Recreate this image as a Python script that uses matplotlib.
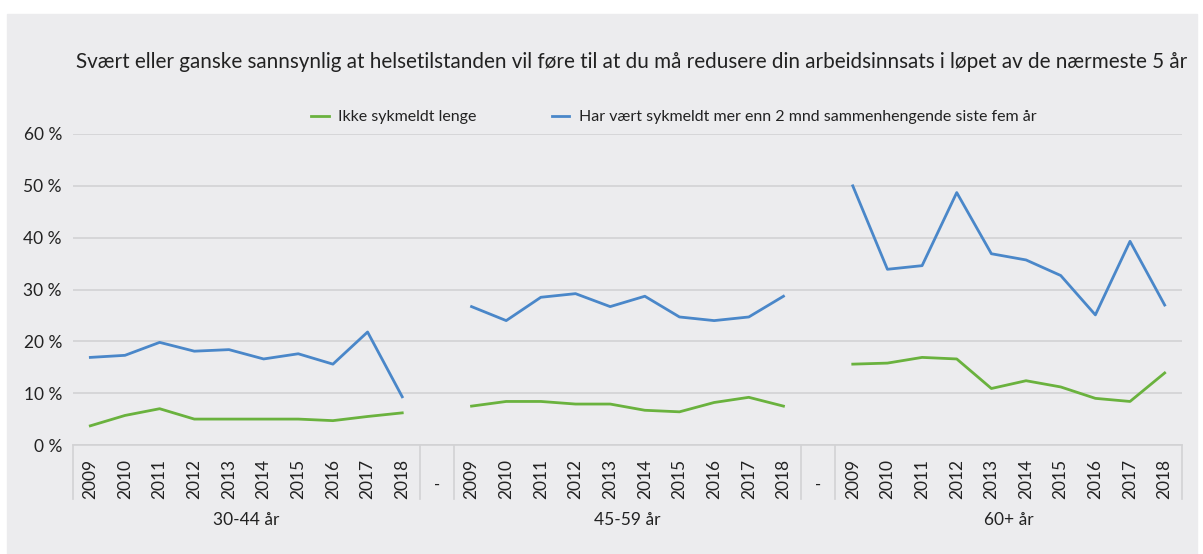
import numpy as np
import matplotlib
matplotlib.use("Agg")
import matplotlib.pyplot as plt
from matplotlib.patches import Rectangle
from matplotlib.transforms import blended_transform_factory

plt.rcParams["font.family"] = ["Lato", "DejaVu Sans"]

TITLE = ("Svært eller ganske sannsynlig at helsetilstanden vil føre til at du må "
         "redusere din arbeidsinnsats i løpet av de nærmeste 5 år")
YEARS = [str(y) for y in range(2009, 2019)]
GROUPS = ["30-44 år", "45-59 år", "60+ år"]
SERIES_NAMES = ["Ikke sykmeldt lenge",
                "Har vært sykmeldt mer enn 2 mnd sammenhengende siste fem år"]

# values in %, one list per age group (2009..2018)
green = [
    [3.7, 5.7, 7.0, 5.0, 5.0, 5.0, 5.0, 4.7, 5.5, 6.2],
    [7.5, 8.4, 8.4, 7.9, 7.9, 6.7, 6.4, 8.2, 9.2, 7.5],
    [15.6, 15.8, 16.9, 16.6, 10.9, 12.4, 11.2, 9.0, 8.4, 13.9],
]
blue = [
    [16.9, 17.3, 19.8, 18.1, 18.4, 16.6, 17.6, 15.6, 21.8, 9.3],
    [26.7, 24.0, 28.5, 29.2, 26.7, 28.7, 24.7, 24.0, 24.7, 28.7],
    [50.0, 33.9, 34.6, 48.7, 36.9, 35.7, 32.7, 25.1, 39.3, 27.0],
]

GREEN = "#6ab23e"
BLUE = "#4a87c9"
BG = "#ececee"
GRID = "#d2d2d4"
TXT = "#222222"


def joined(groups):
    # glue the groups together with a gap ("-") between them
    out = []
    for i, g in enumerate(groups):
        if i:
            out.append(np.nan)
        out.extend(g)
    return np.array(out)


labels = []
for i in range(len(GROUPS)):
    if i:
        labels.append("-")
    labels.extend(YEARS)
x = np.arange(len(labels))

fig = plt.figure(figsize=(12.03, 5.54), dpi=100, facecolor="white")
fig.patches.append(Rectangle((7 / 1203, 0), 1190 / 1203, 540 / 554,
                             transform=fig.transFigure, color=BG, zorder=-10))
ax = fig.add_axes([73 / 1203, 109 / 554, 1109 / 1203, 311 / 554])
ax.set_facecolor(BG)

ax.plot(x, joined(green), color=GREEN, lw=2.0, label=SERIES_NAMES[0], zorder=3)
ax.plot(x, joined(blue), color=BLUE, lw=2.0, label=SERIES_NAMES[1], zorder=3)

ax.set_xlim(-0.5, len(labels) - 0.5)
ax.set_ylim(0, 60)
ax.set_yticks(range(0, 61, 10))
ax.set_yticklabels([f"{v} %" for v in range(0, 61, 10)], fontsize=12.5, color=TXT)
ax.tick_params(axis="y", length=0, pad=8)
ax.grid(axis="y", color=GRID, lw=1.2)
ax.set_axisbelow(True)
for s in ("top", "right", "left"):
    ax.spines[s].set_visible(False)
ax.spines["bottom"].set_color(GRID)
ax.spines["bottom"].set_linewidth(1.2)
ax.set_xticks([])

# category labels and separator boxes under the axis
tr = blended_transform_factory(ax.transData, ax.transAxes)
lab_bottom = -54 / 311
for xi, lab in zip(x, labels):
    if lab == "-":
        ax.text(xi, lab_bottom + 0.02, lab, transform=tr, ha="center", va="bottom",
                fontsize=12, color=TXT)
    else:
        ax.text(xi, lab_bottom, lab, transform=tr, ha="center", va="bottom",
                rotation=90, fontsize=12.5, color=TXT)
bounds = [-0.5]
pos = -0.5
for i in range(len(GROUPS)):
    if i:
        pos += 1
        bounds.append(pos)
    pos += len(YEARS)
    bounds.append(pos)
for b in bounds:
    ax.plot([b, b], [0, lab_bottom], transform=tr, color=GRID, lw=1.2, clip_on=False)

start = 0
for g in GROUPS:
    ax.text(start + (len(YEARS) - 1) / 2, -75 / 311, g, transform=tr, ha="center",
            va="center", fontsize=12.5, color=TXT)
    start += len(YEARS) + 1

fig.text(76 / 1203, 1 - 62 / 554, TITLE, ha="left", va="center", fontsize=14.9, color=TXT)
fig.legend(loc="center", bbox_to_anchor=(674 / 1203, 1 - 117 / 554), ncol=2,
           frameon=False, fontsize=11.5, handlelength=1.1, handletextpad=0.6,
           columnspacing=4.7, labelcolor=TXT)

fig.savefig("out.png", dpi=100, facecolor=fig.get_facecolor())
